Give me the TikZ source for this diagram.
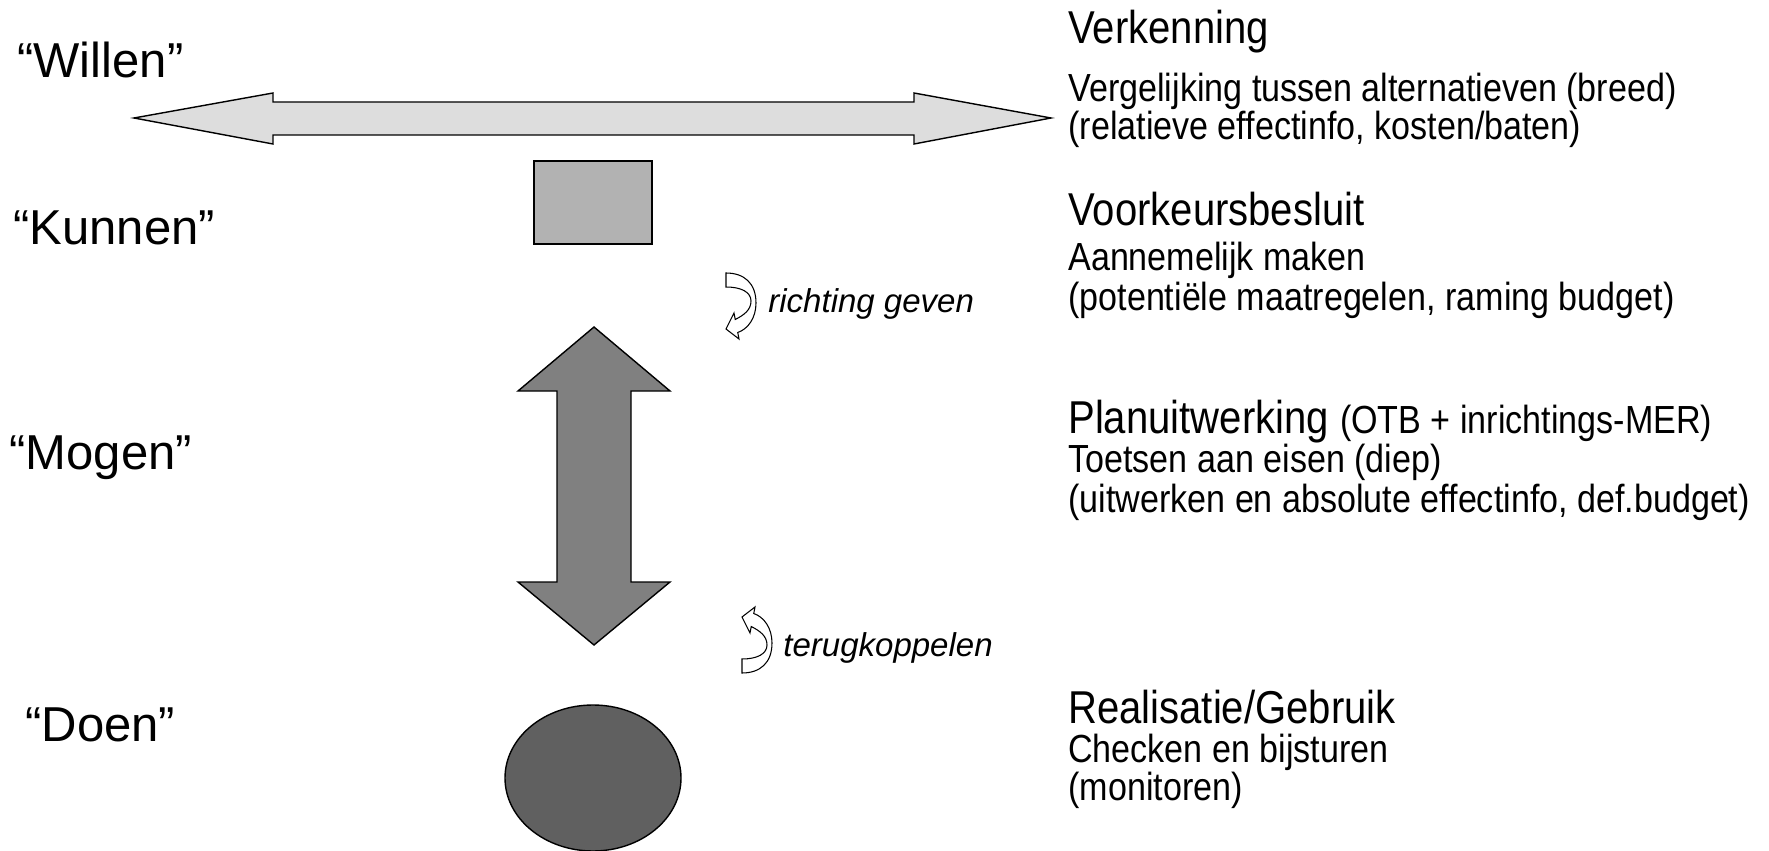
\documentclass[tikz,border=0pt]{standalone}
\usepackage{fontspec}
\setmainfont{Liberation Sans}
\usepackage{graphicx}
\usetikzlibrary{positioning}
\definecolor{lightgrey}{gray}{0.867}
\definecolor{midgrey}{gray}{0.70}
\definecolor{darkgrey}{gray}{0.50}
\definecolor{deepgrey}{gray}{0.376}
\tikzstyle{phase} = [anchor=base west, inner sep=0pt, font=\fontsize{27.9}{33}\selectfont]
\tikzstyle{stage} = [anchor=base west, inner sep=0pt, font=\fontsize{22.8}{27}\selectfont]
\tikzstyle{note} = [anchor=base west, inner sep=0pt, font=\fontsize{19.4}{23}\selectfont]
\tikzstyle{hint} = [anchor=base west, inner sep=0pt, font=\fontsize{18.8}{22}\selectfont\itshape]
\tikzstyle{blockline} = [draw=black, line width=0.8pt, line join=miter]
\newcommand{\tall}[1]{\scalebox{1}[1.15]{#1}}
\newcommand{\notesize}{\fontsize{19.4}{23}\selectfont}
\newcommand{\curlarrow}{(0,0) .. controls (18,0) and (30,10) .. (30,30)
  .. controls (30,45) and (22,56) .. (11.75,59.5) -- (13,66) -- (0,56)
  -- (8,40) -- (9.25,46.5) .. controls (18,42) and (25,37) .. (25,28)
  .. controls (25,19) and (15,14) .. (0,14) -- cycle}

\begin{document}
\begin{tikzpicture}[x=0.02cm, y=-0.02cm]
  \useasboundingbox (0,0) rectangle (1769,851);

  % left column
  \node[phase] (willen) at (17,78) {“Willen”};
  \node[phase] (kunnen) at (13,245) {“Kunnen”};
  \node[phase] (mogen) at (9,469) {“Mogen”};
  \node[phase] (doen) at (25,741) {“Doen”};

  % shapes
  \draw[blockline, fill=lightgrey] (134,118) -- (273,93) -- (273,102) -- (914,102)
    -- (914,93) -- (1051,118) -- (914,144) -- (914,135) -- (273,135)
    -- (273,144) -- cycle;
  \draw[blockline, fill=midgrey] (534,161) rectangle (652,244);
  \draw[blockline, fill=darkgrey] (594,327) -- (670,391) -- (631,391) -- (631,582)
    -- (670,582) -- (594,645) -- (518,582) -- (557,582) -- (557,391)
    -- (518,391) -- cycle;
  \draw[blockline, fill=deepgrey] (593,778) ellipse (88 and 73);

  % feedback loop
  \begin{scope}[shift={(726,273)}]
    \draw[blockline, fill=white, line width=0.6pt] \curlarrow;
  \end{scope}
  \begin{scope}[shift={(742,673)}, yscale=-1]
    \draw[blockline, fill=white, line width=0.6pt] \curlarrow;
  \end{scope}
  \node[hint] (richting) at (768,313) {richting geven};
  \node[hint] (terug) at (783,656) {terugkoppelen};

  % right column
  \node[stage] (verk) at (1068,44) {\tall{Verkenning}};
  \node[note] (verkA) at (1068,102) {\tall{Vergelijking tussen alternatieven (breed)}};
  \node[note] (verkB) at (1068,140) {\tall{(relatieve effectinfo, kosten/baten)}};

  \node[stage] (vkb) at (1068,226) {\tall{Voorkeursbesluit}};
  \node[note] (vkbA) at (1068,271) {\tall{Aannemelijk maken}};
  \node[note] (vkbB) at (1068,311) {\tall{(potentiële maatregelen, raming budget)}};

  \node[stage] (plan) at (1068,433) {\tall{Planuitwerking {\notesize (OTB + inrichtings-MER)}}};
  \node[note] (planA) at (1068,472) {\tall{Toetsen aan eisen (diep)}};
  \node[note] (planB) at (1068,512) {\tall{(uitwerken en absolute effectinfo, def.budget)}};

  \node[stage] (real) at (1068,723) {\tall{Realisatie/Gebruik}};
  \node[note] (realA) at (1068,762) {\tall{Checken en bijsturen}};
  \node[note] (realB) at (1068,800) {\tall{(monitoren)}};
\end{tikzpicture}
\end{document}
